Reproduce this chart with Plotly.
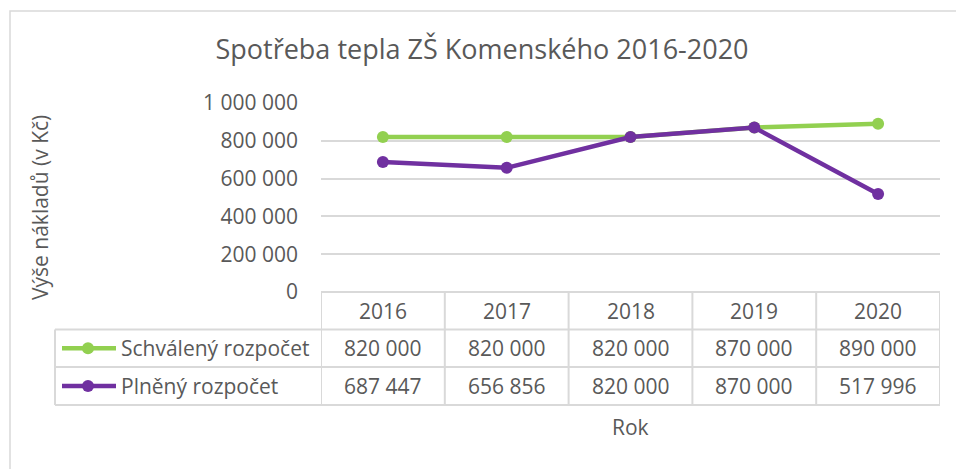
import plotly.graph_objects as go

years = ["2016", "2017", "2018", "2019", "2020"]
schvaleny = [820000, 820000, 820000, 870000, 890000]
planeny = [687447, 656856, 820000, 870000, 517996]
series_names = ["Schválený rozpočet", "Plněný rozpočet"]
series_colors = ["#92d050", "#7030a0"]
y_ticks = [0, 200000, 400000, 600000, 800000, 1000000]

W, H = 956, 469
L, R, T, B = 321, 940, 103, 292
FONT = "Open Sans"
GREY = "#595959"
GRID = "#d9d9d9"


def fmt(v):
    return f"{v:,}".replace(",", " ")


def px(x):
    return (x - L) / (R - L)


def py(y):
    return (B - y) / (B - T)


xs = list(range(len(years)))
fig = go.Figure()
for name, vals, col in zip(series_names, [schvaleny, planeny], series_colors):
    fig.add_trace(go.Scatter(x=xs, y=vals, mode="lines+markers", name=name,
                             line=dict(color=col, width=4.5),
                             marker=dict(color=col, size=12), cliponaxis=False))

shapes = []
annotations = []
# chart border (only left/top visible)
shapes.append(dict(type="rect", xref="paper", yref="paper", x0=px(10), x1=px(1000),
                   y0=py(520), y1=py(11), line=dict(color=GRID, width=1.5), layer="below"))
row_lines = [292, 329.5, 367, 405]
# horizontal table lines
shapes.append(dict(type="line", xref="x", yref="paper", x0=-0.5, x1=4.5,
                   y0=py(row_lines[0]), y1=py(row_lines[0]), line=dict(color=GRID, width=2)))
for yy in row_lines[1:]:
    shapes.append(dict(type="line", xref="paper", yref="paper", x0=px(55), x1=1,
                       y0=py(yy), y1=py(yy), line=dict(color=GRID, width=2)))
# vertical table lines
for i in range(len(years) + 1):
    shapes.append(dict(type="line", xref="x", yref="paper", x0=i - 0.5, x1=i - 0.5,
                       y0=py(292), y1=py(405), line=dict(color=GRID, width=2)))
shapes.append(dict(type="line", xref="paper", yref="paper", x0=px(55), x1=px(55),
                   y0=py(329.5), y1=py(405), line=dict(color=GRID, width=2)))

row_c = [(292 + 329.5) / 2, (329.5 + 367) / 2, (367 + 405) / 2]
TXT = dict(family=FONT, size=21, color=GREY)
for i, yv in enumerate(years):
    annotations.append(dict(x=i, y=py(row_c[0]), xref="x", yref="paper", text=yv,
                            xanchor="center", yanchor="middle", showarrow=False, font=TXT))
for r, vals in enumerate([schvaleny, planeny]):
    for i, v in enumerate(vals):
        annotations.append(dict(x=i, y=py(row_c[r + 1]), xref="x", yref="paper", text=fmt(v),
                                xanchor="center", yanchor="middle", showarrow=False, font=TXT))
    yc = py(row_c[r + 1])
    col = series_colors[r]
    shapes.append(dict(type="line", xref="paper", yref="paper", x0=px(62), x1=px(116),
                       y0=yc, y1=yc, line=dict(color=col, width=4.5)))
    shapes.append(dict(type="circle", xref="paper", yref="paper", xsizemode="pixel",
                       ysizemode="pixel", xanchor=px(88), yanchor=yc, x0=-6, x1=6, y0=-6, y1=6,
                       fillcolor=col, line=dict(color=col, width=0)))
    annotations.append(dict(x=px(119), y=yc, xref="paper", yref="paper", xanchor="left",
                            yanchor="middle", text=series_names[r], showarrow=False, font=TXT))

annotations.append(dict(x=px(40), y=py(208), xref="paper", yref="paper", textangle=-90,
                        xanchor="center", yanchor="middle",
                        text="Výše nákladů (v Kč)", showarrow=False, font=TXT))
annotations.append(dict(x=px(630), y=py(427), xref="paper", yref="paper", text="Rok",
                        xanchor="center", yanchor="middle", showarrow=False, font=TXT))

fig.update_layout(
    width=W, height=H,
    margin=dict(l=L, r=W - R, t=T, b=H - B, pad=0),
    paper_bgcolor="white", plot_bgcolor="white",
    showlegend=False,
    title=dict(text="Spotřeba tepla ZŠ Komenského 2016-2020", x=482 / W, y=1 - 50 / H,
               xref="container", yref="container", xanchor="center", yanchor="middle",
               font=dict(family=FONT, size=27, color=GREY)),
    xaxis=dict(range=[-0.5, 4.5], showgrid=False, showticklabels=False, zeroline=False,
               showline=False, fixedrange=True),
    yaxis=dict(range=[0, 1000000], tickvals=y_ticks, ticktext=[fmt(v) for v in y_ticks],
               showgrid=True, gridcolor=GRID, gridwidth=1.5, zeroline=False, showline=False,
               ticks="", ticklabelstandoff=22, tickfont=TXT),
    shapes=shapes, annotations=annotations,
)
fig.write_html("out.html", config={"displayModeBar": False},
               post_script="document.body.style.margin='0';document.body.style.overflow='hidden';")
